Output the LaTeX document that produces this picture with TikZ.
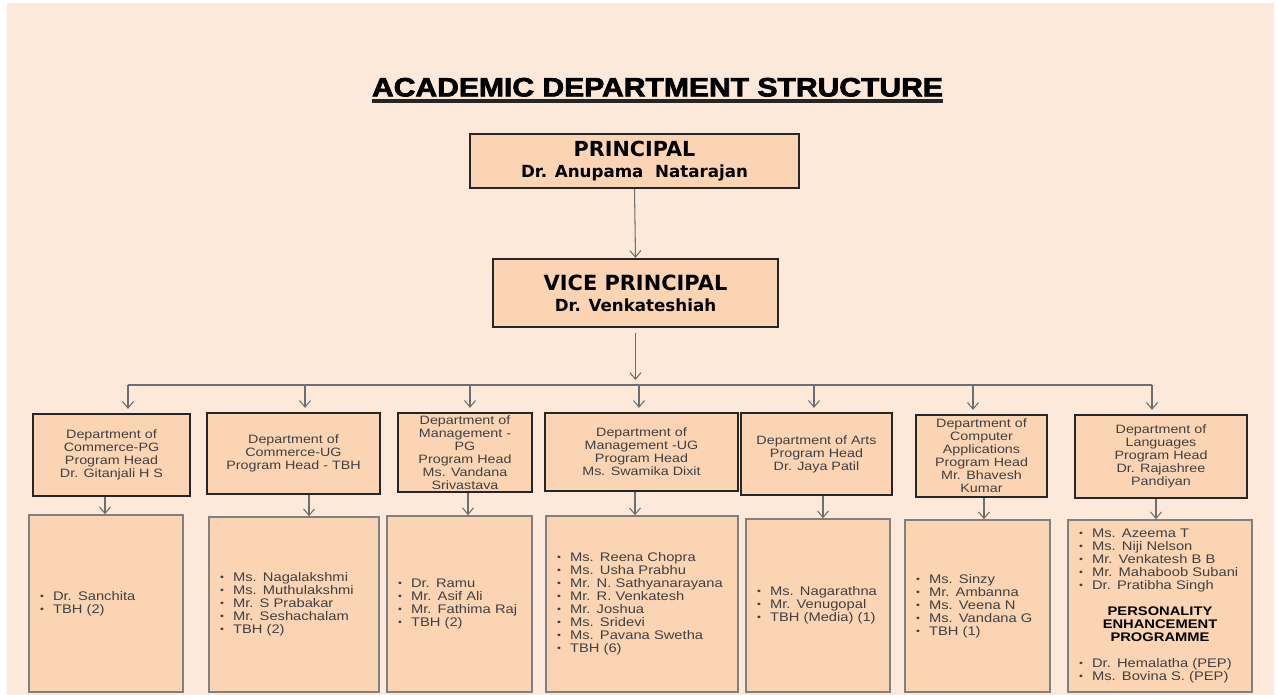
\documentclass[tikz,border=0pt]{standalone}
\usepackage{fontspec}
\usepackage{graphicx}
\setmainfont{Liberation Sans}
\newfontfamily\headfont{DejaVu Sans}
\newfontfamily\listfont[FakeStretch=1.18]{Liberation Sans}
\newfontfamily\titlefont[FakeBold=2.5]{Liberation Sans}
\usetikzlibrary{arrows.meta}
\definecolor{pagebg}{HTML}{FDE9DA}
\definecolor{boxfill}{HTML}{FBD4B4}
\definecolor{linkgray}{HTML}{6E6E6E}
\tikzset{>={Straight Barb[length=1.3mm,width=2.2mm]}}
\tikzset{
  headbox/.style={draw=black!85, line width=1.3pt, fill=boxfill, align=center, inner sep=0pt},
  deptbox/.style={draw=black!85, line width=1.3pt, fill=boxfill, align=center, inner sep=0pt,
    text=black!75, font=\listfont\fontsize{6.9}{7.4}\selectfont},
  staffbox/.style={draw=black!50, line width=0.9pt, fill=boxfill, align=left, inner xsep=0.22cm,
    inner ysep=0pt, text=black!75, font=\listfont\fontsize{7.1}{7.4}\selectfont},
  link/.style={->, draw=linkgray, line width=0.6pt}
}
\newcommand{\itm}[1]{\makebox[0.26cm][l]{\raisebox{0.15ex}{\scalebox{0.75}{\textbullet}}}#1}

\begin{document}
\begin{tikzpicture}[x=0.02cm, y=-0.02cm]
    \useasboundingbox (0,0) rectangle (1277,695);
    \fill[pagebg] (7,3) rectangle (1274,695);

    % title
    \node[inner sep=0pt, anchor=south] (title) at (657.5,97)
      {\resizebox{11.42cm}{0.37cm}{\titlefont\bfseries ACADEMIC DEPARTMENT STRUCTURE}};
    \draw[line width=1.8pt, black!85] ([yshift=-0.08cm]title.south west) -- ([yshift=-0.08cm]title.south east);

    % principal and vice principal
    \node[headbox, minimum width=6.58cm, minimum height=1.08cm] (pr) at (634.5,161)
      {\headfont\bfseries\fontsize{11.8}{11.4}\selectfont PRINCIPAL\\
       \headfont\bfseries\fontsize{9.5}{11.4}\selectfont Dr. Anupama\ \ Natarajan};
    \node[headbox, minimum width=5.70cm, minimum height=1.36cm] (vp) at (635.5,293)
      {\headfont\bfseries\fontsize{11.9}{12}\selectfont VICE PRINCIPAL\\
       \headfont\bfseries\fontsize{9.5}{12}\selectfont Dr. Venkateshiah};

    \draw[link] (pr.south) -- (vp.north);

    % departments
    \node[deptbox, minimum width=3.14cm, minimum height=1.64cm] (d1) at (111.5,455)
      {Department of\\Commerce-PG\\Program Head\\Dr. Gitanjali H S};
    \node[deptbox, minimum width=3.46cm, minimum height=1.62cm] (d2) at (293.5,453.5)
      {Department of\\Commerce-UG\\Program Head - TBH};
    \node[deptbox, minimum width=2.68cm, minimum height=1.58cm] (d3) at (465,452.5)
      {Department of\\Management -\\PG\\Program Head\\Ms. Vandana\\Srivastava};
    \node[deptbox, minimum width=3.86cm, minimum height=1.56cm] (d4) at (641.5,452)
      {Department of\\Management -UG\\Program Head\\Ms. Swamika Dixit};
    \node[deptbox, minimum width=3.02cm, minimum height=1.64cm] (d5) at (816.5,454)
      {Department of Arts\\Program Head\\Dr. Jaya Patil};
    \node[deptbox, minimum width=2.62cm, minimum height=1.64cm] (d6) at (981.5,456)
      {Department of\\Computer\\Applications\\Program Head\\Mr. Bhavesh\\Kumar};
    \node[deptbox, minimum width=3.44cm, minimum height=1.66cm] (d7) at (1161,456.5)
      {Department of\\Languages\\Program Head\\Dr. Rajashree\\Pandiyan};

    % staff
    \node[staffbox, text width=2.64cm, minimum height=3.54cm] (m1) at (106,603.5)
      {\itm{Dr. Sanchita}\\\itm{TBH (2)}};
    \node[staffbox, text width=2.96cm, minimum height=3.50cm] (m2) at (294,604.5)
      {\itm{Ms. Nagalakshmi}\\\itm{Ms. Muthulakshmi}\\\itm{Mr. S Prabakar}\\\itm{Mr. Seshachalam}\\\itm{TBH (2)}};
    \node[staffbox, text width=2.46cm, minimum height=3.52cm] (m3) at (459.5,604)
      {\itm{Dr. Ramu}\\\itm{Mr. Asif Ali}\\\itm{Mr. Fathima Raj}\\\itm{TBH (2)}};
    \node[staffbox, text width=3.40cm, minimum height=3.52cm] (m4) at (642,604)
      {\itm{Ms. Reena Chopra}\\\itm{Ms. Usha Prabhu}\\\itm{Mr. N. Sathyanarayana}\\\itm{Mr. R. Venkatesh}\\
       \itm{Mr. Joshua}\\\itm{Ms. Sridevi}\\\itm{Ms. Pavana Swetha}\\\itm{TBH (6)}};
    \node[staffbox, text width=2.44cm, minimum height=3.46cm] (m5) at (818,605.5)
      {\itm{Ms. Nagarathna}\\\itm{Mr. Venugopal}\\\itm{TBH (Media) (1)}};
    \node[staffbox, text width=2.46cm, minimum height=3.44cm] (m6) at (977.5,606)
      {\itm{Ms. Sinzy}\\\itm{Mr. Ambanna}\\\itm{Ms. Veena N}\\\itm{Ms. Vandana G}\\\itm{TBH (1)}};
    \node[staffbox, text width=3.24cm, minimum height=3.44cm] (m7) at (1160,606)
      {\itm{Ms. Azeema T}\\\itm{Ms. Niji Nelson}\\\itm{Mr. Venkatesh B B}\\\itm{Mr. Mahaboob Subani}\\
       \itm{Dr. Pratibha Singh}\\[7.4pt]
       \makebox[3.24cm][c]{\bfseries\color{black}PERSONALITY}\\
       \makebox[3.24cm][c]{\bfseries\color{black}ENHANCEMENT}\\
       \makebox[3.24cm][c]{\bfseries\color{black}PROGRAMME}\\[7.4pt]
       \itm{Dr. Hemalatha (PEP)}\\\itm{Ms. Bovina S. (PEP)}};

    % bus and arrows
    \foreach \i/\ux/\lx in {1/128/105,2/305/309,3/470/468,4/639/635,5/814/823,6/973/984,7/1152/1156}{
      \coordinate (b\i) at (\ux,385);
      \coordinate (l\i) at (\lx,0);
      \draw[link, shorten >=0.08cm] (b\i) -- (b\i |- d\i.north);
      \draw[link] (d\i.south -| l\i) -- (m\i.north -| l\i);
    }
    \draw[draw=linkgray, line width=0.6pt] (b1) -- (b7);
    \draw[link, shorten <=0.1cm, shorten >=0.1cm] (vp.south) -- (vp.south |- b4);
\end{tikzpicture}
\end{document}
